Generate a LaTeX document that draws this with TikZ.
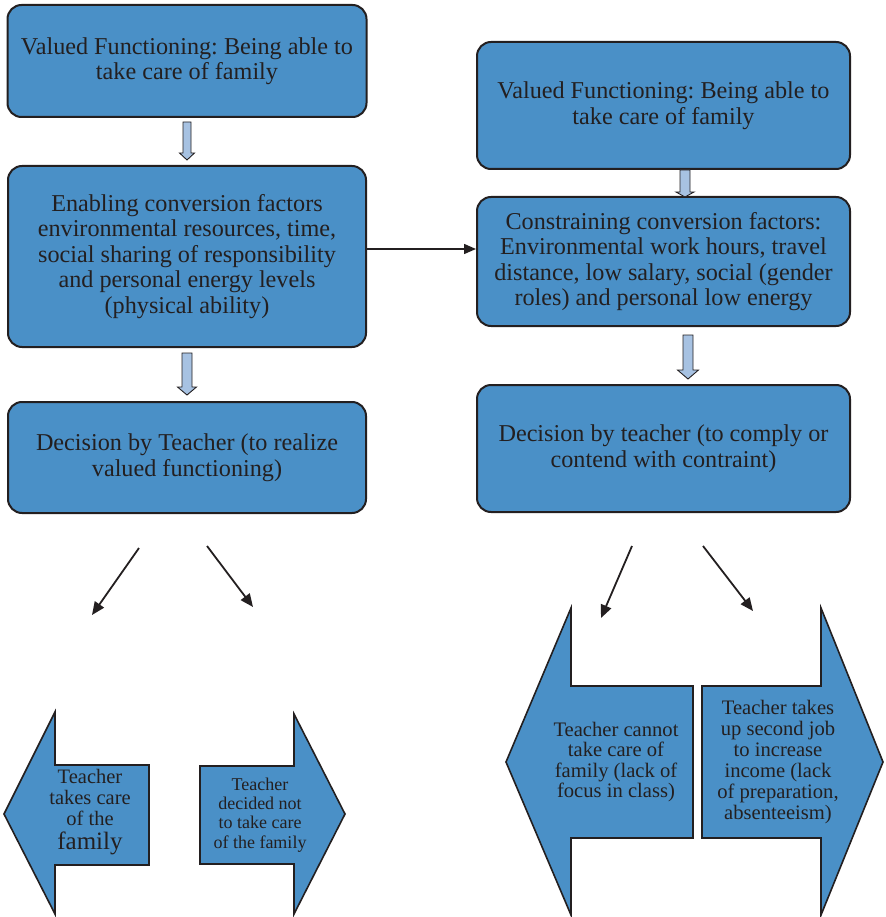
\documentclass[tikz,border=0pt]{standalone}
\usepackage{fontspec}
\setmainfont{Liberation Serif}
\usetikzlibrary{arrows.meta}
\frenchspacing
\definecolor{boxblue}{RGB}{74,144,199}
\definecolor{lightblue}{RGB}{167,194,226}
\definecolor{ink}{RGB}{35,31,32}
\tikzset{
  mainbox/.style={draw=ink, line width=2pt, fill=boxblue, rounded corners=14pt,
    inner sep=0pt, align=center, text=ink,
    font=\fontsize{24.2}{25.5}\selectfont},
  blockarrow/.style={draw=ink, line width=0.9pt, fill=lightblue, line join=miter},
  bigarrow/.style={draw=ink, line width=1.6pt, fill=boxblue, line join=miter},
  thinarrow/.style={draw=ink, line width=1.8pt, -{Triangle[length=13pt,width=11pt]}},
  shapetext/.style={text=ink, align=center, inner sep=0pt},
}
\newcommand\blockdown[6]{%
  \draw[blockarrow] ({#1-#5},#2) -- ({#1+#5},#2) -- ({#1+#5},#3) -- ({#1+#6},#3)
    -- (#1,#4) -- ({#1-#6},#3) -- ({#1-#5},#3) -- cycle;}
\begin{document}
\begin{tikzpicture}[x=1pt,y=-1pt]
\useasboundingbox (0,0) rectangle (885,917);

% main boxes
\node[mainbox, minimum width=359pt, minimum height=112pt] (b1) at (187,61)
  {Valued Functioning: Being able to\\take care of family};
\node[mainbox, minimum width=358pt, minimum height=181pt] (b2) at (187,256.5)
  {Enabling conversion factors\\environmental resources, time,\\social sharing of responsibility\\and personal energy levels\\(physical ability)};
\node[mainbox, minimum width=358pt, minimum height=111pt] (b6) at (187,457.5)
  {Decision by Teacher (to realize\\valued functioning)};
\node[mainbox, minimum width=373pt, minimum height=127pt] (b3) at (663.5,105.5)
  {Valued Functioning: Being able to\\take care of family};
\node[mainbox, minimum width=373pt, minimum height=129pt] (b4) at (663.5,261.5)
  {Constraining conversion factors:\\Environmental work hours, travel\\distance, low salary, social (gender\\roles) and personal low energy};
\node[mainbox, minimum width=373pt, minimum height=127pt] (b5) at (663.5,448.5)
  {Decision by teacher (to comply or\\contend with contraint)};

% block arrows
\blockdown{187}{122}{153}{160}{4}{7.5}
\blockdown{685}{170}{192}{197}{5}{9}
\blockdown{688}{335}{370}{379}{5}{10.5}
\blockdown{187}{353}{387}{395}{5}{9.5}

% horizontal connector
\coordinate (hy) at (0,249);
\draw[ink, line width=1.5pt, -{Triangle[length=12pt,width=10pt]}] (b2.east |- hy) -- (b4.west |- hy);

% diagonal arrows
\coordinate (d1s) at (139,548); \coordinate (d1e) at (92,615);
\coordinate (d2s) at (207,546); \coordinate (d2e) at (253,607);
\coordinate (d3s) at (632,546); \coordinate (d3e) at (601,618);
\coordinate (d4s) at (703,546); \coordinate (d4e) at (753,611);
\draw[thinarrow] (d1s) -- (d1e);
\draw[thinarrow] (d2s) -- (d2e);
\draw[thinarrow] (d3s) -- (d3e);
\draw[thinarrow] (d4s) -- (d4e);

% big arrow shapes
\draw[bigarrow] (4,814) -- (55,712) -- (55,765) -- (149,765) -- (149,865) -- (55,865) -- (55,914) -- cycle;
\draw[bigarrow] (345,814) -- (294,714) -- (294,766) -- (200,766) -- (200,864) -- (294,864) -- (294,914) -- cycle;
\draw[bigarrow] (506,762) -- (571,608) -- (571,686) -- (693,686) -- (693,838) -- (571,838) -- (571,915) -- cycle;
\draw[bigarrow] (883,762) -- (821,608) -- (821,686) -- (702,686) -- (702,838) -- (821,838) -- (821,915) -- cycle;

\node[shapetext, font=\fontsize{20.5}{21}\selectfont] (t1) at (90,812)
  {Teacher\\takes care\\of the\\[3pt]{\fontsize{25}{24}\selectfont family}};
\node[shapetext, font=\fontsize{18}{19.3}\selectfont] (t2) at (260,815)
  {Teacher\\decided not\\to take care\\of the family};
\node[shapetext, font=\fontsize{20.6}{20.5}\selectfont] (t3) at (616,762)
  {Teacher cannot\\take care of\\family (lack of\\focus in class)};
\node[shapetext, font=\fontsize{20.6}{21}\selectfont] (t4) at (778,762)
  {Teacher takes\\up second job\\to increase\\income (lack\\of preparation,\\absenteeism)};
\end{tikzpicture}
\end{document}
